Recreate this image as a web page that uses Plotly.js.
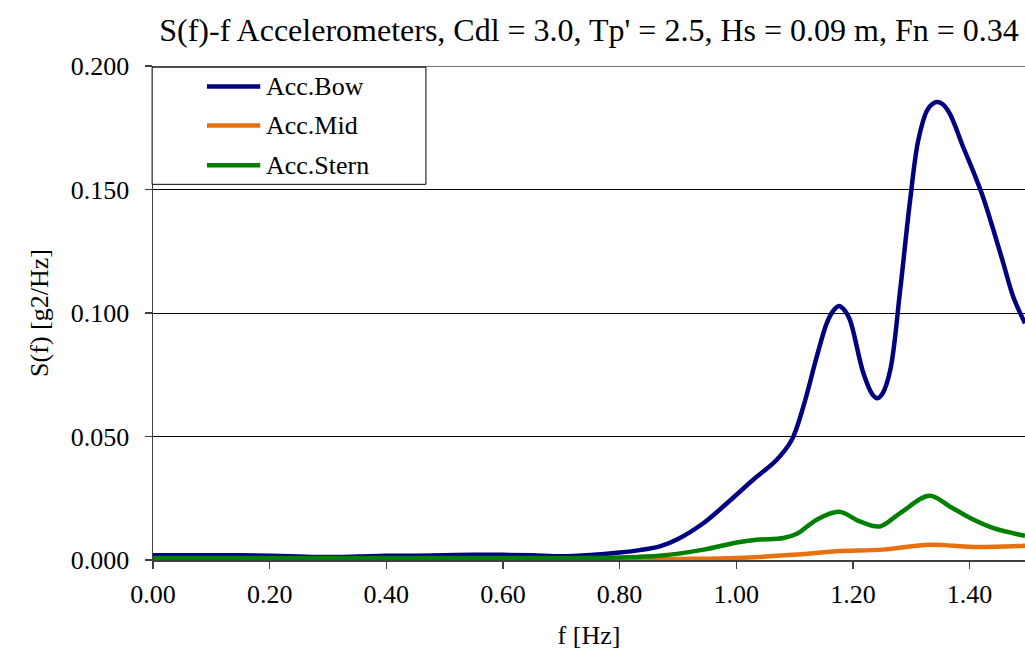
<!DOCTYPE html>
<html>
<head>
<meta charset="utf-8">
<script src="https://cdn.plot.ly/plotly-3.0.1.min.js"></script>
<style>html,body{margin:0;padding:0;background:#fff;}#chart{width:1025px;height:652px;}</style>
</head>
<body>
<div id="chart"></div>
<script>
// Frequencies (Hz) and spectral densities S(f) [g2/Hz]
const bowF = [0.00,0.05,0.10,0.15,0.20,0.25,0.29,0.35,0.40,0.45,0.50,0.55,0.60,0.65,0.70,0.75,0.80,0.835,0.869,0.90,0.944,0.984,1.029,1.069,1.095,1.115,1.138,1.155,1.166,1.176,1.186,1.195,1.218,1.233,1.242,1.251,1.264,1.281,1.298,1.312,1.327,1.337,1.345,1.354,1.366,1.389,1.409,1.423,1.441,1.458,1.475,1.495];
const bowS = [0.0019,0.0019,0.0019,0.0019,0.0017,0.0014,0.0012,0.0014,0.0017,0.0017,0.0019,0.0021,0.0021,0.0019,0.0015,0.0020,0.0030,0.0040,0.0055,0.0085,0.0150,0.0230,0.0325,0.0405,0.0486,0.0621,0.0823,0.0958,0.1008,0.1028,0.1010,0.0971,0.0756,0.0672,0.0655,0.0675,0.0769,0.1093,0.1456,0.1699,0.1820,0.1848,0.1854,0.1845,0.1807,0.1672,0.1557,0.1470,0.1335,0.1200,0.1065,0.0958];

const midF = [0.00,0.10,0.20,0.30,0.40,0.50,0.60,0.70,0.80,0.90,1.001,1.098,1.172,1.252,1.332,1.406,1.495];
const midS = [0.0002,0.0002,0.0002,0.0001,0.0002,0.0001,0.0001,0.0001,0.0002,0.0004,0.0008,0.0021,0.0035,0.0042,0.0062,0.0053,0.0058];

const sternF = [0.00,0.10,0.20,0.30,0.40,0.50,0.60,0.70,0.80,0.835,0.869,0.944,1.001,1.035,1.081,1.104,1.138,1.176,1.212,1.246,1.281,1.331,1.366,1.401,1.441,1.495];
const sternS = [0.0008,0.0008,0.0008,0.0008,0.0008,0.0008,0.0008,0.0008,0.0010,0.0013,0.0017,0.0042,0.0071,0.0082,0.0089,0.0106,0.0163,0.0195,0.0156,0.0136,0.0190,0.0260,0.0217,0.0170,0.0129,0.0098];

const seriesNames = ['Acc.Bow','Acc.Mid','Acc.Stern'];
const seriesColors = ['#000080','#E8710F','#008000'];
const xTicks = [0.0,0.2,0.4,0.6,0.8,1.0,1.2,1.4];
const yTicks = [0.000,0.050,0.100,0.150,0.200];

const FONT = 'Liberation Serif';
const xs = [bowF, midF, sternF];
const ys = [bowS, midS, sternS];

const traces = xs.map((x, i) => ({
  x: x, y: ys[i], type: 'scatter', mode: 'lines', name: seriesNames[i],
  line: {color: seriesColors[i], width: 4.5, shape: 'spline', smoothing: 1},
  showlegend: false, hoverinfo: 'skip'
}));

// manual legend (box, sample lines, labels) in paper coordinates
const legX0 = -0.001, legX1 = 0.313, legY0 = 0.7605, legY1 = 0.9976;
const rowY = [0.9586, 0.8797, 0.7989];
const shapes = [
  {type:'line', xref:'paper', yref:'y', x0:0, x1:1, y0:0.2, y1:0.2, line:{color:'#404040', width:1.5}},
  {type:'rect', xref:'paper', yref:'paper', x0:legX0, x1:legX1, y0:legY0, y1:legY1, line:{color:'#000', width:1}, fillcolor:'#fff', layer:'above'}
];
const annotations = [];
seriesNames.forEach((n, i) => {
  shapes.push({type:'line', xref:'paper', yref:'paper', x0:0.0619, x1:0.123, y0:rowY[i], y1:rowY[i], line:{color:seriesColors[i], width:4.5}, layer:'above'});
  annotations.push({xref:'paper', yref:'paper', x:0.1275, y:rowY[i], xanchor:'left', yanchor:'middle', text:n, showarrow:false, font:{family:FONT, size:26, color:'#000'}});
});

const layout = {
  width: 1025, height: 652,
  margin: {l: 153, r: 0, t: 66, b: 92, pad: 0},
  paper_bgcolor: '#fff', plot_bgcolor: '#fff',
  font: {family: FONT, size: 26, color: '#000'},
  title: {text: "S(f)-f Accelerometers, Cdl = 3.0, Tp' = 2.5, Hs = 0.09 m, Fn = 0.34",
          font: {family: FONT, size: 32, color: '#000'}, x: 0.5, xref: 'paper', xanchor: 'center',
          y: 1 - 30/652, yref: 'container', yanchor: 'middle'},
  xaxis: {range: [0, 1.495], tickvals: xTicks, tickformat: '.2f', ticks: 'outside', ticklen: 7, tickwidth: 1.3,
          tickcolor: '#404040', showline: true, linecolor: '#404040', linewidth: 1.5, showgrid: false, zeroline: false,
          ticklabelstandoff: 3, tickfont: {family: FONT, size: 26, color: '#000'},
          title: {text: 'f [Hz]', font: {family: FONT, size: 26, color: '#000'}, standoff: 18}},
  yaxis: {range: [0, 0.2], tickvals: yTicks, tickformat: '.3f', ticks: 'outside', ticklen: 7, tickwidth: 1.3,
          tickcolor: '#404040', showline: true, linecolor: '#404040', linewidth: 1.5, showgrid: true, gridcolor: '#000',
          gridwidth: 1, zeroline: false, ticklabelstandoff: 10, tickfont: {family: FONT, size: 26, color: '#000'},
          title: {text: 'S(f) [g2/Hz]', font: {family: FONT, size: 26, color: '#000'}, standoff: 14}},
  shapes: shapes, annotations: annotations, showlegend: false
};

Plotly.newPlot('chart', traces, layout, {staticPlot: true, displayModeBar: false});
</script>
</body>
</html>
